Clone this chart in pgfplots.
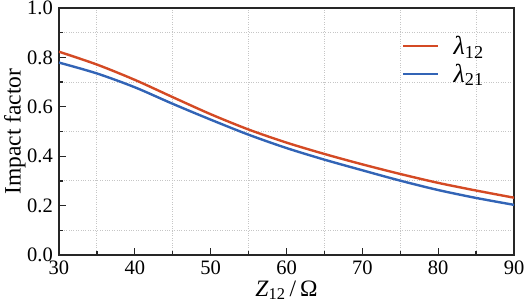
\documentclass[border=0pt]{standalone}
\usepackage{pgfplots}
\pgfplotsset{compat=1.18}
\usepackage{fontspec}
\setmainfont{Liberation Serif}
\definecolor{cred}{RGB}{212,74,36}
\definecolor{cblue}{RGB}{50,100,182}
\begin{document}
\begin{tikzpicture}
\useasboundingbox (-59pt,-52pt) rectangle (467pt,255pt);
\begin{axis}[
  at={(0pt,0pt)}, anchor=origin,
  scale only axis,
  width=455pt, height=247pt,
  xmin=30, xmax=90, ymin=0, ymax=1,
  xtick={30,40,...,90},
  ytick={0,0.2,...,1.0},
  minor xtick={35,45,...,85},
  minor ytick={0.1,0.3,...,0.9},
  yticklabel style={inner sep=1pt, xshift=-5pt, /pgf/number format/.cd,fixed,fixed zerofill,precision=1},
  /pgf/number format/assume math mode=true,
  tick align=inside,
  xtick pos=bottom, ytick pos=left,
  major tick length=7pt, minor tick length=4pt,
  tick style={line width=1.3pt, black!85},
  axis line style={line width=1.6pt, black!85},
  minor grid style={dotted, gray!45, line width=0.9pt},
  xminorgrids, yminorgrids,
  ticklabel style={font=\fontsize{20.5}{22}\selectfont},
  xticklabel style={yshift=-5pt, inner sep=1pt},
  xlabel={\textit{Z}\textsubscript{12}\,/\,Ω},
  ylabel={Impact factor},
  label style={font=\fontsize{23.5}{25}\selectfont},
  xlabel style={at={(axis description cs:0.5,0)}, anchor=base, yshift=-41pt},
  ylabel style={at={(axis description cs:-0.097,0.5)}, anchor=center},
  legend style={draw=none, fill=none, inner sep=0pt, at={(axis description cs:0.754,0.895)}, anchor=north west, font=\fontsize{26}{28}\selectfont, row sep=4pt, column sep=12pt},
  legend image code/.code={\draw[#1] (0pt,0pt) -- (35pt,0pt);},
  legend cell align=left,
  every axis plot/.append style={line width=2.4pt},
]
\addplot[cred, smooth] coordinates {
(30,0.823) (35,0.771) (40,0.709) (45,0.639) (50,0.570) (55,0.508) (60,0.455) (65,0.409) (70,0.367) (75,0.328) (80,0.292) (85,0.261) (90,0.232)};
\addlegendentry{\textit{λ}\textsubscript{12}}
\addplot[cblue, smooth] coordinates {
(30,0.779) (35,0.735) (40,0.679) (45,0.612) (50,0.548) (55,0.487) (60,0.433) (65,0.386) (70,0.343) (75,0.301) (80,0.263) (85,0.231) (90,0.203)};
\addlegendentry{\textit{λ}\textsubscript{21}}
\end{axis}
\end{tikzpicture}
\end{document}
